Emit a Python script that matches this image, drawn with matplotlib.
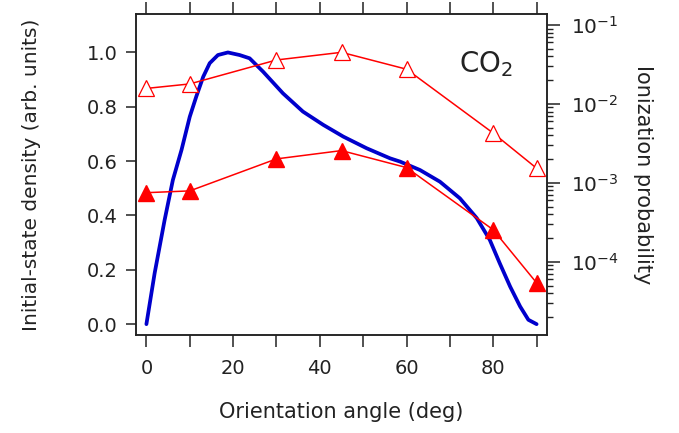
import matplotlib
matplotlib.use('Agg')
import matplotlib.pyplot as plt
from matplotlib.ticker import LogLocator, MultipleLocator, NullFormatter, FormatStrFormatter

plt.rcParams.update({
    'font.family': 'DejaVu Sans', 'text.color': '#222222',
    'axes.labelcolor': '#222222', 'xtick.color': '#222222', 'ytick.color': '#222222',
    'axes.edgecolor': '#222222', 'axes.linewidth': 1.1,
})

# blue: initial-state density (left axis)
angle_dens = [0, 1.9, 4.2, 6.1, 8.1, 10, 11.5, 13.1, 14.6, 16.5, 18.8, 21.5, 23.8, 26.9,
              31.5, 36.1, 40.8, 45.4, 50.8, 56.2, 58.5, 63.1, 67.7, 72.3, 76.2, 79.2,
              81.5, 83.9, 86.2, 88.1, 90]
density = [0, 0.1875, 0.383, 0.530, 0.641, 0.763, 0.837, 0.910, 0.960, 0.990, 0.9995, 0.990,
           0.978, 0.929, 0.849, 0.782, 0.733, 0.690, 0.647, 0.610, 0.598, 0.567, 0.524,
           0.463, 0.390, 0.310, 0.224, 0.138, 0.065, 0.016, 0.0]

# red: ionization probability (right axis, log)
angles = [0, 10, 30, 45, 60, 80, 90]
prob_open = [0.0157, 0.0179, 0.036, 0.045, 0.0275, 0.00426, 0.00153]
prob_filled = [7.5e-4, 7.9e-4, 2.01e-3, 2.56e-3, 1.56e-3, 2.54e-4, 5.4e-5]

fig = plt.figure(figsize=(6.79, 4.33), dpi=100)
ax = fig.add_axes([0.2003, 0.2263, 0.6053, 0.7414])
ax.plot(angle_dens, density, color='#0000CC', lw=2.7, zorder=3,
        solid_joinstyle='round', solid_capstyle='round')
ax.set_xlim(-2.4, 92.4)
ax.set_ylim(-0.04, 1.141)
ax.xaxis.set_major_locator(MultipleLocator(20))
ax.xaxis.set_minor_locator(MultipleLocator(10))
ax.yaxis.set_major_locator(MultipleLocator(0.2))
ax.yaxis.set_major_formatter(FormatStrFormatter('%.1f'))
ax.tick_params(axis='x', which='both', direction='out', length=8.5, width=1.1,
               top=True, labelsize=14, pad=9)
ax.tick_params(axis='y', which='major', direction='out', length=7.5, width=1.1,
               labelsize=14, pad=6)
ax.set_xlabel('Orientation angle (deg)', fontsize=15, labelpad=17)
ax.set_ylabel('Initial-state density (arb. units)', fontsize=14.5, labelpad=33)
ax.text(0.785, 0.845, 'CO$_2$', transform=ax.transAxes, fontsize=20, ha='left', va='center')

ax2 = ax.twinx()
ax2.set_yscale('log')
ax2.plot(angles, prob_open, color='red', lw=1.1, marker='^', ms=11,
         mfc='white', mec='red', mew=0.9)
ax2.plot(angles, prob_filled, color='red', lw=1.1, marker='^', ms=11,
         mfc='red', mec='red')
ax2.set_ylim(1.18e-5, 0.1377)
ax2.yaxis.set_major_locator(LogLocator(base=10, numticks=10))
ax2.yaxis.set_minor_locator(LogLocator(base=10, subs=range(2, 10), numticks=10))
ax2.yaxis.set_minor_formatter(NullFormatter())
ax2.tick_params(axis='y', which='major', direction='out', length=9, width=1.1,
                labelsize=14.5, pad=8)
ax2.tick_params(axis='y', which='minor', direction='out', length=4.5, width=1.0)
ax2.set_ylabel('Ionization probability', fontsize=15, rotation=270, labelpad=25)

plt.savefig('out.png', dpi=100)
